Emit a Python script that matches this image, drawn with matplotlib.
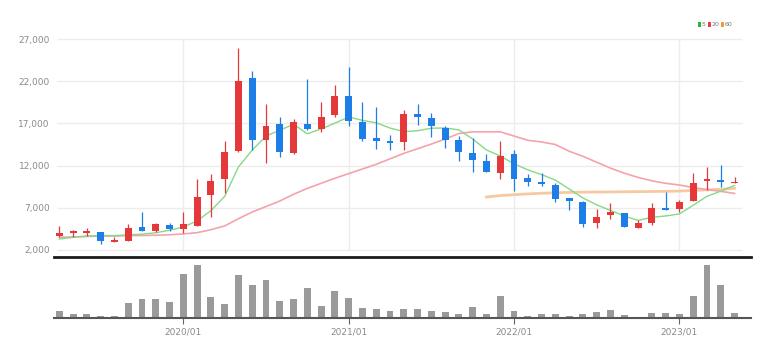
import matplotlib
matplotlib.use("Agg")
import matplotlib.pyplot as plt
from matplotlib.patches import Rectangle
import numpy as np
import pandas as pd

# monthly candles, 2019/04 .. 2023/05
months = pd.period_range("2019-04", periods=50, freq="M").strftime("%Y/%m").tolist()

open_ = [3660, 4050, 4050, 4100, 2920, 3100, 4700, 4220, 5010, 4530,
         4850, 8530, 10440, 13680, 22400, 14990, 16930, 13490, 16970, 16340,
         18040, 20210, 17120, 15270, 14870, 14800, 18120, 17600, 16460, 15070,
         13490, 12570, 11110, 13410, 10520, 10110, 9720, 8140, 7740, 5170,
         6120, 6360, 4650, 5170, 7030, 6840, 7820, 10230, 10280, 9960]
high = [4850, 4380, 4600, 4150, 3510, 5050, 6480, 5250, 5250, 6550,
        10400, 11030, 14950, 25880, 23180, 19350, 17720, 17530, 22280, 19500,
        21600, 23660, 19500, 18950, 15660, 18630, 19350, 18240, 16650, 15460,
        15270, 13370, 14870, 13800, 11030, 11110, 9920, 8150, 7750, 6840,
        7620, 6380, 5560, 7620, 8930, 7940, 11110, 11830, 12020, 10640]
low = [3510, 3510, 3700, 2710, 2900, 3100, 4250, 4100, 4250, 3980,
       4800, 5890, 8740, 13600, 13880, 12300, 12970, 13400, 16260, 15980,
       17760, 16650, 14870, 14000, 13880, 13880, 16850, 15390, 14080, 12570,
       11300, 11250, 10440, 9010, 9600, 9600, 7740, 6750, 4770, 4580,
       5650, 4700, 4580, 4970, 6700, 6550, 7800, 9050, 9520, 9950]
close = [4050, 4220, 4200, 3070, 3190, 4580, 4290, 5090, 4530, 5050,
         8330, 10230, 13610, 21990, 14990, 16730, 13610, 17170, 16380, 17800,
         20210, 17240, 15150, 14950, 14680, 18120, 17770, 16650, 15070, 13560,
         12690, 11300, 13080, 10400, 10040, 9810, 8060, 7820, 5090, 5960,
         6510, 4770, 5170, 6950, 6720, 7740, 9920, 10470, 10000, 10110]
volume = [22, 13, 13, 6, 6, 46, 57, 57, 47, 134,
          159, 62, 41, 129, 99, 114, 51, 56, 91, 36,
          80, 59, 30, 28, 21, 28, 26, 22, 18, 13,
          33, 13, 67, 21, 6, 12, 12, 6, 12, 17,
          23, 8, 4, 14, 14, 12, 65, 159, 101, 14]

# moving averages as drawn on the chart
ma5 = [3300, 3500, 3650, 3720, 3700, 3800, 3870, 4040, 4340, 4710,
       5460, 6650, 8350, 11840, 13830, 15510, 16190, 16900, 15770, 16340,
       17030, 17760, 17360, 17070, 16450, 16030, 16130, 16430, 16460, 16230,
       15150, 13850, 13140, 12210, 11500, 10930, 10280, 9230, 8160, 7350,
       6690, 6030, 5500, 5870, 6030, 6270, 7300, 8360, 8970, 9650]
ma20 = [3500, 3550, 3600, 3650, 3650, 3700, 3720, 3750, 3800, 3900,
        4050, 4400, 4850, 5700, 6500, 7150, 7800, 8600, 9300, 9900,
        10500, 11050, 11600, 12150, 12800, 13450, 14000, 14550, 15150, 15800,
        16000, 16000, 16000, 15500, 15000, 14800, 14500, 13700, 13100, 12400,
        11700, 11100, 10600, 10200, 9900, 9700, 9400, 9150, 8950, 8700]
ma60 = [np.nan] * 31 + [
        8270, 8450, 8550, 8650, 8720, 8780, 8820, 8850, 8870, 8880,
        8900, 8910, 8930, 8950, 8980, 9050, 9120, 9200, 9300]

price_ticks = [2000, 7000, 12000, 17000, 22000, 27000]
year_labels = ["2020/01", "2021/01", "2022/01", "2023/01"]
legend_labels = ["5", "20", "60"]

UP = "#e5383b"
DOWN = "#1c7ee6"
GRID = "#ececec"
TXT = "#8a8a8a"
FONT = ["Liberation Sans Narrow", "DejaVu Sans"]

plt.rcParams["font.family"] = FONT

fig = plt.figure(figsize=(7.73, 3.57), dpi=100)
ax = fig.add_axes([54 / 773, 100 / 357, 697 / 773, 226 / 357])
axv = fig.add_axes([54 / 773, 39 / 357, 697 / 773, 57 / 357])

x = np.arange(len(months))
year_pos = [months.index(m) for m in year_labels]
xlim = ((54 - 59.3) / 13.78, (751 - 59.3) / 13.78)

# ---- price panel
ax.hlines(price_ticks, (57 - 59.3) / 13.78, (742 - 59.3) / 13.78,
          color=GRID, linewidth=1, zorder=0)
ax.vlines(year_pos, price_ticks[0], price_ticks[-1], color=GRID, linewidth=1, zorder=0)

ax.plot(x, ma60, color="#f7c9a2", linewidth=2, zorder=2)
ax.plot(x, ma20, color="#f4a3ab", linewidth=1.2, zorder=2)
ax.plot(x, ma5, color="#86d986", linewidth=1.0, zorder=2)

o, h, l, c = map(np.array, (open_, high, low, close))
colors = np.where(c >= o, UP, DOWN)
ax.vlines(x, l, h, colors=colors, linewidth=0.9, zorder=3)
body = np.maximum(np.abs(c - o), 90)
ax.bar(x, body, bottom=np.minimum(o, c), width=0.5, color=colors, zorder=4)

ax.set_xlim(*xlim)
ax.set_ylim(1168, 27950)
ax.set_yticks(price_ticks)
ax.set_yticklabels([f"{v:,}" for v in price_ticks], color=TXT, fontsize=6.5)
ax.tick_params(axis="y", length=0, pad=3)
ax.set_xticks([])
for s in ("top", "right", "left"):
    ax.spines[s].set_visible(False)
ax.spines["bottom"].set_color("#1a1a1a")
ax.spines["bottom"].set_linewidth(2)

# ---- volume panel
axv.bar(x, volume, width=0.5, color="#9a9a9a", zorder=2)
axv.set_xlim(*xlim)
axv.set_ylim(0, 172)
axv.set_yticks([])
axv.set_xticks(year_pos)
axv.set_xticklabels(year_labels, color=TXT, fontsize=6.5)
axv.tick_params(axis="x", length=4, width=0.8, color="#666666", pad=3)
for s in ("top", "right", "left"):
    axv.spines[s].set_visible(False)
axv.spines["bottom"].set_color("#555555")
axv.spines["bottom"].set_linewidth(1.5)

# ---- MA legend, top right (small coloured squares + period)
leg_colors = ["#2db52d", "#ee3b4b", "#f39c32"]
leg_x = [698, 708, 721]
for xp, col, lab in zip(leg_x, leg_colors, legend_labels):
    fig.add_artist(Rectangle((xp / 773, 1 - 27 / 357), 2.5 / 773, 5 / 357,
                             transform=fig.transFigure, color=col, lw=0))
    fig.text((xp + 3.5) / 773, 1 - 24.5 / 357, lab, color="#777777", fontsize=4.5,
             ha="left", va="center")

fig.savefig("out.png", dpi=100)
